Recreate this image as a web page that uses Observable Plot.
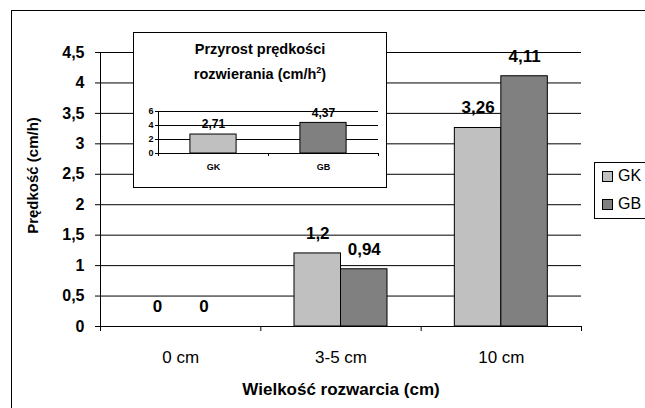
<!DOCTYPE html>
<html><head><meta charset="utf-8">
<script src="https://cdn.jsdelivr.net/npm/d3@7"></script>
<script src="https://cdn.jsdelivr.net/npm/@observablehq/plot@0.6"></script>
<style>
body{margin:0;background:#fff;font-family:"Liberation Sans",Arial,sans-serif}
#wrap{position:relative;width:645px;height:408px;overflow:hidden;background:#fff}
#border{position:absolute;left:11px;top:10px;width:700px;height:500px;border:1px solid #000;box-sizing:border-box}
#main{position:absolute;left:0;top:0}
#inset{position:absolute;left:133px;top:32px;width:254px;height:156px;background:#fff}
#inset .plot{position:absolute;left:0;top:0}
#insetBorder{position:absolute;left:0;top:0;width:254px;height:156px;border:1px solid #000;box-sizing:border-box}
#insetTitle{position:absolute;left:0;top:5px;width:254px;text-align:center;font-weight:bold;font-size:14.5px;line-height:25px;color:#000}
#insetTitle sup{font-size:9px;vertical-align:6px;line-height:0}
#legend{position:absolute;left:594px;top:162px;width:80px;height:57px;border:1px solid #000;box-sizing:border-box;background:#fff}
.item{position:absolute;left:7px;font-size:16px;line-height:18px;display:flex;align-items:center}
.sw{width:9px;height:9px;border:1px solid #000;margin-right:5px}
</style></head>
<body>
<div id="wrap">
  <div id="border"></div>
  <div id="main"></div>
  <div id="inset"><div id="insetPlot"></div><div id="insetTitle"></div><div id="insetBorder"></div></div>
  <div id="legend"></div>
</div>
<script>
const categories = ["0 cm", "3-5 cm", "10 cm"];
const series = ["GK", "GB"];
const gkValues = [0, 1.2, 3.26];
const gbValues = [0, 0.94, 4.11];
const yTicks = [0, 0.5, 1, 1.5, 2, 2.5, 3, 3.5, 4, 4.5];
const insetCategories = ["GK", "GB"];
const insetValues = [2.71, 4.37];
const insetTicks = [0, 2, 4, 6];
const colors = ["#c0c0c0", "#808080"];
const yLabel = "Prędkość (cm/h)";
const xLabel = "Wielkość rozwarcia (cm)";
const insetTitleLines = ["Przyrost prędkości", "rozwierania (cm/h<sup>2</sup>)"];

const fmt = v => String(v).replace(".", ",");
const font = "Liberation Sans, Arial, sans-serif";

const data = categories.flatMap((c, i) => [
  {cat: c, i, s: series[0], v: gkValues[i]},
  {cat: c, i, s: series[1], v: gbValues[i]}
]);
const half = 0.29;
const bx1 = d => d.s === series[0] ? d.i + 0.5 - half : d.i + 0.5;
const bx2 = d => d.s === series[0] ? d.i + 0.5 : d.i + 0.5 + half;
const bxc = d => (bx1(d) + bx2(d)) / 2;

const main = Plot.plot({
  width: 645, height: 408,
  marginLeft: 100, marginRight: 64, marginTop: 52, marginBottom: 82,
  style: {fontFamily: font, background: "transparent", color: "#000"},
  x: {domain: [0, 3], axis: null},
  y: {domain: [0, 4.5], axis: null},
  color: {domain: series, range: colors},
  marks: [
    Plot.ruleY(yTicks, {stroke: "#000", strokeOpacity: 1}),
    Plot.ruleX([0], {stroke: "#000"}),
    Plot.axisY({ticks: yTicks, tickSize: 5, tickPadding: 11, tickFormat: fmt, fontWeight: "bold", fontSize: 16, label: null, stroke: "#000"}),
    Plot.axisX({ticks: [0, 1, 2, 3], tickSize: 5, tickFormat: () => "", label: null, stroke: "#000"}),
    Plot.rectY(data, {x1: bx1, x2: bx2, y: "v", fill: "s", stroke: "#000", strokeWidth: 1}),
    Plot.text(data, {x: bxc, y: "v", text: d => fmt(d.v), dy: -20, fontWeight: "bold", fontSize: 17, fill: "#000"}),
    Plot.text(categories, {x: (d, i) => i + 0.5, frameAnchor: "bottom", lineAnchor: "middle", textAnchor: "middle", dy: 31, fontSize: 17, fill: "#000"}),
    Plot.text([xLabel], {frameAnchor: "bottom", lineAnchor: "middle", textAnchor: "middle", dy: 63, fontSize: 17, fontWeight: "bold", fill: "#000"}),
    Plot.text([yLabel], {frameAnchor: "left", lineAnchor: "middle", textAnchor: "middle", rotate: -90, dx: -67, dy: -14, fontSize: 15, fontWeight: "bold", fill: "#000"})
  ]
});
document.getElementById("main").appendChild(main);

const insetData = insetCategories.map((c, i) => ({c, i, v: insetValues[i]}));
const ih = 0.21;
const inset = Plot.plot({
  width: 254, height: 156,
  marginLeft: 25, marginRight: 9, marginTop: 79, marginBottom: 35,
  style: {fontFamily: font, background: "transparent", color: "#000"},
  x: {domain: [0, 2], axis: null},
  y: {domain: [0, 6], axis: null},
  color: {domain: series, range: colors},
  marks: [
    Plot.ruleY(insetTicks, {stroke: "#000"}),
    Plot.ruleX([0], {stroke: "#000"}),
    Plot.axisY({ticks: insetTicks, tickSize: 3, tickPadding: 2, tickFormat: d => String(d), fontWeight: "bold", fontSize: 9, label: null, stroke: "#000"}),
    Plot.axisX({ticks: [0, 1, 2], tickSize: 3, tickFormat: () => "", label: null, stroke: "#000"}),
    Plot.rectY(insetData, {x1: d => d.i + 0.5 - ih, x2: d => d.i + 0.5 + ih, y: "v", fill: "c", stroke: "#000"}),
    Plot.text(insetData, {x: d => d.i + 0.5, y: "v", text: d => fmt(d.v), dy: -10, fontWeight: "bold", fontSize: 12, fill: "#000"}),
    Plot.text(insetCategories, {x: (d, i) => i + 0.5, frameAnchor: "bottom", lineAnchor: "middle", textAnchor: "middle", dy: 14, fontSize: 9, fontWeight: "bold", fill: "#000"})
  ]
});
inset.classList.add("plot");
document.getElementById("insetPlot").appendChild(inset);
document.getElementById("insetTitle").innerHTML = insetTitleLines.join("<br>");

const legend = document.getElementById("legend");
series.forEach((s, i) => {
  const it = document.createElement("div");
  it.className = "item";
  it.style.top = (4 + i * 28) + "px";
  it.innerHTML = `<span class="sw" style="background:${colors[i]}"></span>${s}`;
  legend.appendChild(it);
});
</script>
</body></html>
